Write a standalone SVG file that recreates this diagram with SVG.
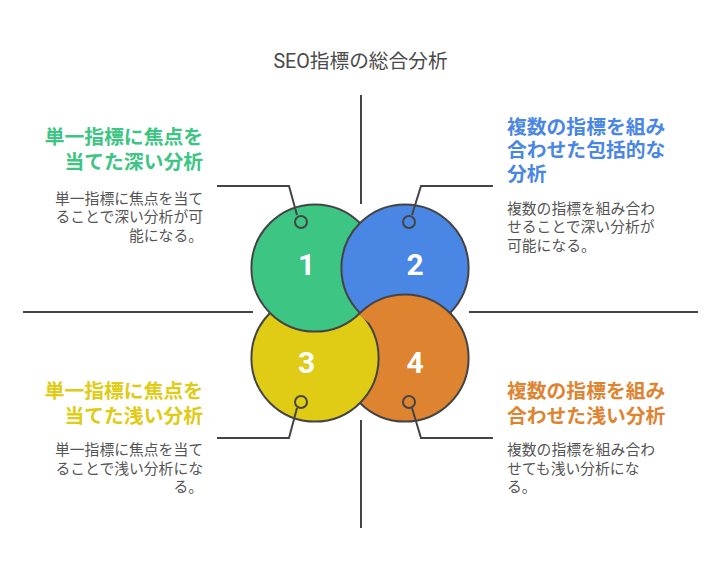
<svg xmlns="http://www.w3.org/2000/svg" width="721" height="576" viewBox="0 0 721 576">
<defs>
<style>
.t{font-family:Roboto,"Noto Sans CJK JP",sans-serif;}
.title{font-size:19.7px;fill:#4a4a4a;}
.h{font-size:19.8px;font-weight:700;}
.d{font-size:14.8px;fill:#555555;}
.num{font-size:30px;font-weight:700;fill:#ffffff;text-anchor:middle;}
.c{stroke:#444444;stroke-width:2;}
.ln{stroke:#444444;stroke-width:2;fill:none;}
.ring{fill:none;stroke:#444444;stroke-width:2;}
.end{text-anchor:end;}
.g{fill:#3CC583;}.b{fill:#4A86E3;}.y{fill:#E0CB15;}.o{fill:#DE8431;}
</style>
<clipPath id="blueClip"><circle cx="405" cy="268" r="65.5"/></clipPath>
</defs>
<rect width="721" height="576" fill="#ffffff"/>
<text class="t title" x="360.5" y="67.5" text-anchor="middle">SEO指標の総合分析</text>
<g id="axes">
<line class="ln" x1="361" y1="95" x2="361" y2="204"/>
<line class="ln" x1="361" y1="420" x2="361" y2="528"/>
<line class="ln" x1="23" y1="312" x2="253" y2="312"/>
<line class="ln" x1="469" y1="312" x2="698" y2="312"/>
</g>
<g id="circles">
<circle id="c4" class="c o" cx="405" cy="358" r="63.6"/>
<circle id="c3" class="c y" cx="315" cy="358" r="63.6"/>
<circle id="c1" class="c g" cx="315" cy="268" r="63.6"/>
<circle id="c2" class="c b" cx="405" cy="268" r="63.6"/>
<circle class="c o" cx="405" cy="358" r="63.6" clip-path="url(#blueClip)"/>
</g>
<g id="connectors">
<polyline class="ln" points="217,186 289,186 297,215"/>
<polyline class="ln" points="493,186 421,186 412,215"/>
<polyline class="ln" points="217,438 289,438 297,408"/>
<polyline class="ln" points="493,438 421,438 412,408"/>
<circle class="ring" cx="301" cy="222" r="6"/>
<circle class="ring" cx="409" cy="222" r="6"/>
<circle class="ring" cx="301" cy="402" r="6"/>
<circle class="ring" cx="409" cy="402" r="6"/>
</g>
<g id="node1">
<text class="t num" x="306.5" y="275">1</text>
<text class="t h g end" x="203"><tspan x="203" y="144">単一指標に焦点を</tspan><tspan x="203" y="169">当てた深い分析</tspan></text>
<text class="t d end" x="203"><tspan x="203" y="204">単一指標に焦点を当て</tspan><tspan x="203" y="222.3">ることで深い分析が可</tspan><tspan x="203" y="240.6">能になる。</tspan></text>
</g>
<g id="node2">
<text class="t num" x="415" y="275">2</text>
<text class="t h b" x="507"><tspan x="507" y="133.5">複数の指標を組み</tspan><tspan x="507" y="157">合わせた包括的な</tspan><tspan x="507" y="180.5">分析</tspan></text>
<text class="t d" x="507"><tspan x="507" y="214">複数の指標を組み合わ</tspan><tspan x="507" y="232.3">せることで深い分析が</tspan><tspan x="507" y="250.6">可能になる。</tspan></text>
</g>
<g id="node3">
<text class="t num" x="306.5" y="372.5">3</text>
<text class="t h y end" x="203"><tspan x="203" y="397.5">単一指標に焦点を</tspan><tspan x="203" y="422.5">当てた浅い分析</tspan></text>
<text class="t d end" x="203"><tspan x="203" y="455">単一指標に焦点を当て</tspan><tspan x="203" y="473.8">ることで浅い分析にな</tspan><tspan x="203" y="492.3">る。</tspan></text>
</g>
<g id="node4">
<text class="t num" x="415" y="372.5">4</text>
<text class="t h o" x="507"><tspan x="507" y="397.5">複数の指標を組み</tspan><tspan x="507" y="422.5">合わせた浅い分析</tspan></text>
<text class="t d" x="507"><tspan x="507" y="455">複数の指標を組み合わ</tspan><tspan x="507" y="473.8">せても浅い分析にな</tspan><tspan x="507" y="492.3">る。</tspan></text>
</g>
</svg>
